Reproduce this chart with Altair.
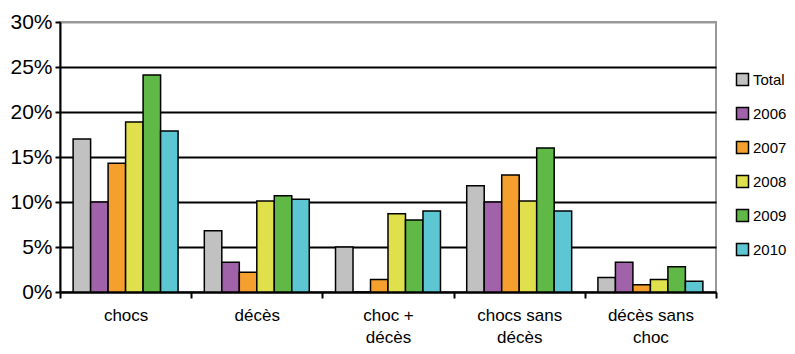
import altair as alt
import pandas as pd

categories = ["chocs", "décès", "choc + décès", "chocs sans décès", "décès sans choc"]
series = ["Total", "2006", "2007", "2008", "2009", "2010"]
values = {
    "Total": [17.0, 6.8, 5.0, 11.8, 1.6],
    "2006": [10.0, 3.3, 0.0, 10.0, 3.3],
    "2007": [14.3, 2.2, 1.4, 13.0, 0.8],
    "2008": [18.9, 10.1, 8.7, 10.1, 1.4],
    "2009": [24.1, 10.7, 8.0, 16.0, 2.8],
    "2010": [17.9, 10.3, 9.0, 9.0, 1.2],
}
colors = ["#c0c1c0", "#a062a8", "#f5a02e", "#e0e04d", "#60b947", "#5cc6d3"]
label_lines = {
    "choc + décès": ["choc +", "décès"],
    "chocs sans décès": ["chocs sans", "décès"],
    "décès sans choc": ["décès sans", "choc"],
}

rows = []
for s in series:
    for c, v in zip(categories, values[s]):
        rows.append({"cat": c, "serie": s, "val": v / 100})
df = pd.DataFrame(rows)

expr = "datum.label"
for k, v in label_lines.items():
    expr = f"datum.label == '{k}' ? ['{v[0]}', '{v[1]}'] : " + expr

font = "Liberation Sans"

chart = alt.Chart(df).mark_bar(stroke="black", strokeWidth=1.5).encode(
    x=alt.X("cat:N", sort=categories, title=None,
            scale=alt.Scale(paddingInner=0, paddingOuter=0),
            axis=alt.Axis(labelAngle=0, labelExpr=expr, labelFontSize=17,
                          labelLineHeight=22, labelFont=font, labelColor="black",
                          labelPadding=9, tickBand="extent", tickColor="black",
                          tickWidth=2, tickSize=6, domainColor="black",
                          domainWidth=2, grid=False)),
    xOffset=alt.XOffset("serie:N", sort=series,
                        scale=alt.Scale(paddingInner=0, paddingOuter=0.75)),
    y=alt.Y("val:Q", title=None,
            scale=alt.Scale(domain=[0, 0.3], nice=False),
            axis=alt.Axis(format=".0%", values=[0, 0.05, 0.1, 0.15, 0.2, 0.25, 0.3],
                          labelFontSize=21, labelFont=font, labelColor="black",
                          labelPadding=3, tickColor="black", tickWidth=2, tickSize=5,
                          domainColor="black", domainWidth=2,
                          gridColor=alt.condition("datum.value >= 0.3", alt.value("#999999"), alt.value("black")),
                          gridWidth=2)),
    color=alt.Color("serie:N", sort=series,
                    scale=alt.Scale(domain=series, range=colors),
                    legend=alt.Legend(title=None, orient="none", legendX=675, legendY=50,
                                      symbolType="square", symbolSize=144,
                                      symbolStrokeColor="black", symbolStrokeWidth=1.5,
                                      labelFontSize=15, labelFont=font, labelColor="black",
                                      rowPadding=15, labelOffset=3)),
).properties(
    width=656, height=270,
    autosize=alt.AutoSizeParams(type="none"),
    padding={"left": 52, "top": 14, "right": 71, "bottom": 54},
).configure_view(stroke="#999999", strokeWidth=2)

chart.save("out.html", embed_options={"renderer": "svg", "actions": False})
